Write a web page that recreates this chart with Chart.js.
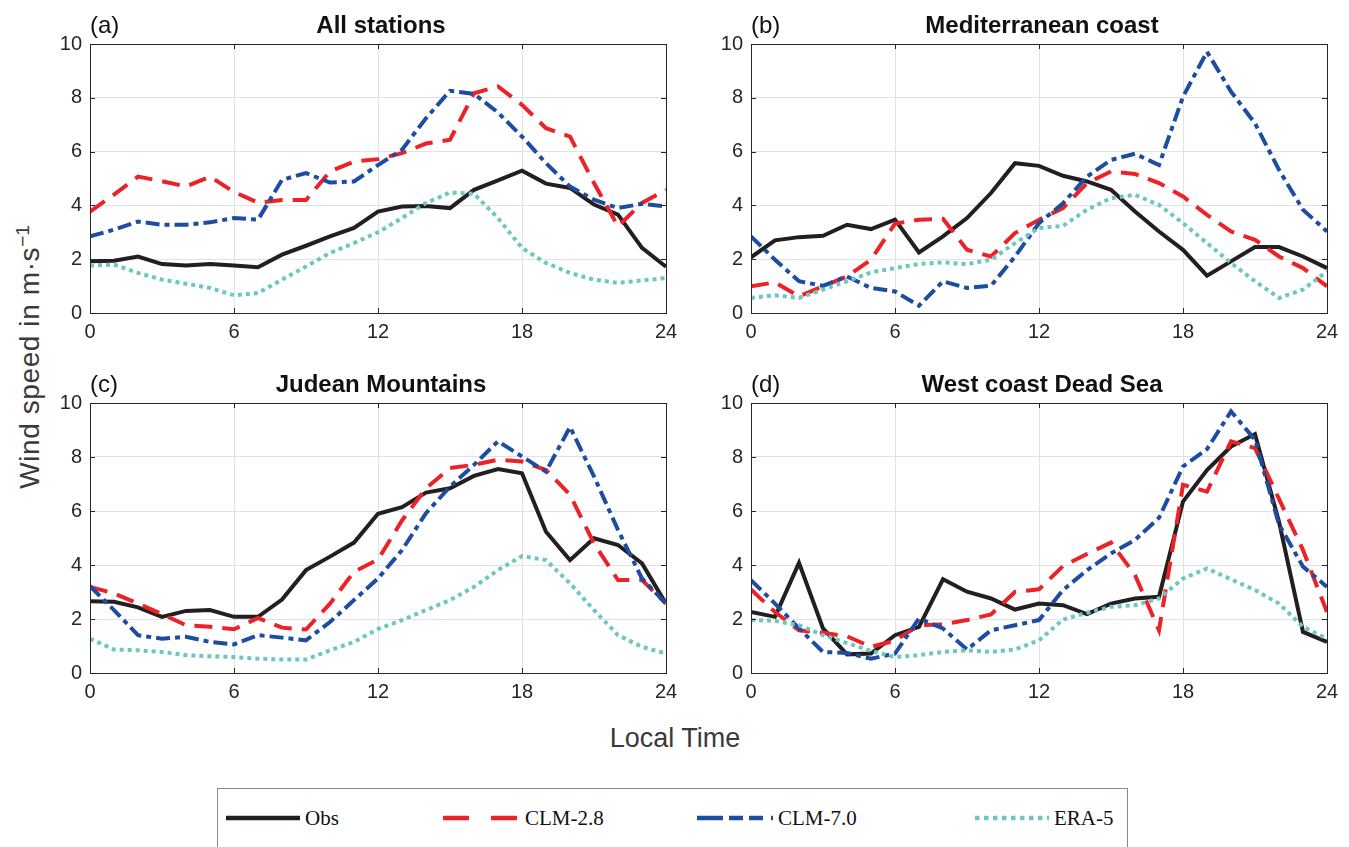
<!DOCTYPE html>
<html>
<head>
<meta charset="utf-8">
<title>Diurnal wind speed</title>
<script src="https://cdn.jsdelivr.net/npm/chart.js@4.4.0/dist/chart.umd.min.js"></script>
<style>
  html, body { margin: 0; padding: 0; background: #fff; }
  #fig { position: relative; width: 1349px; height: 847px; overflow: hidden;
         font-family: "Liberation Sans", Arial, Helvetica, sans-serif; }
  .panel { position: absolute; }
  .panel canvas { display: block; }
  #ylab { position: absolute; left: 30px; top: 357px; white-space: nowrap;
          transform: translate(-50%, -50%) rotate(-90deg);
          font-size: 28px; letter-spacing: 0.6px; color: #3a3a3a; }
  #ylab sup { font-size: 19px; vertical-align: 0.55em; line-height: 0; letter-spacing: 0; }
  #xlab { position: absolute; left: 675px; top: 738px; white-space: nowrap;
          transform: translate(-50%, -50%); font-size: 27px; color: #3a3a3a; }
  #legend { position: absolute; left: 0; top: 0; }
</style>
</head>
<body>
<div id="fig">
  <div id="ylab">Wind speed in m·s<sup>−1</sup></div>
  <div id="xlab">Local Time</div>
</div>

<script>
// Hour of day (local time)
const hours = [0,1,2,3,4,5,6,7,8,9,10,11,12,13,14,15,16,17,18,19,20,21,22,23,24];

// Panel labels and titles
const panelLetters = ["(a)", "(b)", "(c)", "(d)"];
const panelTitles = ["All stations", "Mediterranean coast", "Judean Mountains", "West coast Dead Sea"];

// Series names
const seriesNames = ["Obs", "CLM-2.8", "CLM-7.0", "ERA-5"];

// Axis ticks
const xTicks = [0, 6, 12, 18, 24];
const yTicks = [0, 2, 4, 6, 8, 10];

// (a) All stations
const allObs   = [1.92,1.94,2.10,1.82,1.77,1.82,1.77,1.70,2.17,2.50,2.85,3.16,3.77,3.96,3.98,3.90,4.58,4.93,5.29,4.81,4.65,4.03,3.66,2.42,1.72];
const allClm28 = [3.77,4.40,5.07,4.90,4.70,5.07,4.50,4.10,4.20,4.20,5.26,5.63,5.72,5.94,6.30,6.44,8.17,8.42,7.74,6.87,6.56,4.83,3.22,4.09,4.58];
const allClm70 = [2.85,3.10,3.40,3.28,3.28,3.37,3.53,3.47,4.95,5.20,4.85,4.89,5.50,6.07,7.24,8.26,8.15,7.45,6.56,5.57,4.70,4.21,3.90,4.06,3.96];
const allEra5  = [1.76,1.80,1.49,1.24,1.09,0.93,0.66,0.74,1.24,1.73,2.23,2.60,3.00,3.53,4.09,4.48,4.43,3.53,2.42,1.86,1.49,1.24,1.12,1.21,1.30];

// (b) Mediterranean coast
const medObs   = [2.07,2.70,2.82,2.87,3.28,3.12,3.47,2.25,2.85,3.53,4.46,5.57,5.47,5.10,4.89,4.58,3.77,3.03,2.35,1.39,1.92,2.45,2.45,2.10,1.67];
const medClm28 = [0.99,1.14,0.62,0.99,1.36,1.98,3.32,3.47,3.50,2.35,2.10,2.97,3.47,3.90,4.83,5.26,5.17,4.83,4.33,3.65,3.03,2.72,2.10,1.67,0.99];
const medClm70 = [2.85,1.98,1.18,1.01,1.36,0.93,0.80,0.27,1.18,0.93,1.01,2.10,3.34,4.08,5.07,5.69,5.92,5.50,8.04,9.71,8.23,7.05,5.32,3.84,3.03];
const medEra5  = [0.56,0.66,0.56,0.87,1.18,1.51,1.67,1.82,1.88,1.82,1.98,2.60,3.16,3.24,3.84,4.27,4.39,4.02,3.34,2.60,1.86,1.18,0.56,0.87,1.55];

// (c) Judean Mountains
const judObs   = [2.66,2.64,2.43,2.08,2.30,2.33,2.08,2.08,2.72,3.81,4.31,4.83,5.90,6.14,6.68,6.84,7.30,7.55,7.40,5.23,4.18,4.99,4.74,4.06,2.57];
const judClm28 = [3.19,2.95,2.57,2.18,1.77,1.71,1.62,2.04,1.68,1.61,2.57,3.75,4.20,5.65,6.84,7.59,7.71,7.90,7.83,7.52,6.60,4.80,3.44,3.44,2.57];
const judClm70 = [3.22,2.33,1.40,1.27,1.34,1.15,1.06,1.40,1.31,1.21,1.89,2.70,3.50,4.55,5.92,6.90,7.71,8.58,8.02,7.46,9.11,7.28,5.30,3.50,2.57];
const judEra5  = [1.27,0.87,0.84,0.78,0.66,0.62,0.59,0.53,0.50,0.50,0.84,1.15,1.63,1.96,2.33,2.70,3.19,3.81,4.33,4.18,3.32,2.33,1.40,0.97,0.72];

// (d) West coast Dead Sea
const dsObs   = [2.26,2.08,4.08,1.65,0.69,0.72,1.40,1.71,3.47,3.01,2.76,2.35,2.57,2.51,2.18,2.57,2.76,2.82,6.35,7.52,8.39,8.85,5.60,1.52,1.15];
const dsClm28 = [3.09,2.26,1.58,1.49,1.36,0.97,1.20,1.77,1.80,1.96,2.17,3.00,3.10,3.96,4.41,4.83,3.63,1.58,6.97,6.72,8.58,8.33,6.45,4.55,2.26];
const dsClm70 = [3.44,2.57,1.65,0.78,0.74,0.53,0.72,2.02,1.65,0.87,1.58,1.77,1.96,3.07,3.81,4.43,4.93,5.75,7.65,8.29,9.69,8.64,5.50,3.94,3.19];
const dsEra5  = [1.96,1.93,1.77,1.40,1.11,0.82,0.59,0.66,0.78,0.84,0.78,0.87,1.21,1.98,2.23,2.45,2.51,2.76,3.50,3.87,3.47,3.07,2.57,1.71,1.27];

const panelSeries = [
  [allObs, allClm28, allClm70, allEra5],
  [medObs, medClm28, medClm70, medEra5],
  [judObs, judClm28, judClm70, judEra5],
  [dsObs,  dsClm28,  dsClm70,  dsEra5]
];

// Line styles per series
const seriesColors = ["#231f20", "#ec2227", "#1c4da1", "#6dc7c0"];
const seriesDash   = [[], [18, 10], [14, 5, 5, 5], [4, 4]];
const seriesOrder  = [4, 3, 2, 1];   // ERA-5 on top, Obs underneath

// Plot-area placement of each panel on the page
const plotBoxes = [
  { L: 90,  T: 44,  R: 666,  B: 313 },
  { L: 751, T: 44,  R: 1327, B: 313 },
  { L: 90,  T: 403, R: 666,  B: 673 },
  { L: 751, T: 403, R: 1327, B: 673 }
];
const LEFT_M = 90, TOP_M = 44, RIGHT_M = 20, BOTTOM_M = 40;

const AXIS_COLOR = "#262626";
const FONT = '"Liberation Sans", Arial, Helvetica, sans-serif';

// Frame, inward tick marks, panel letter and title
const panelDecor = {
  id: "panelDecor",
  afterDraw(chart, args, opts) {
    const { ctx, chartArea: a, scales } = chart;
    ctx.save();
    ctx.strokeStyle = AXIS_COLOR;
    ctx.lineWidth = 1;
    const tl = 5;
    ctx.beginPath();
    yTicks.forEach(v => {
      const y = Math.round(scales.y.getPixelForValue(v)) + 0.5;
      ctx.moveTo(a.left, y); ctx.lineTo(a.left + tl, y);
      ctx.moveTo(a.right, y); ctx.lineTo(a.right - tl, y);
    });
    xTicks.forEach(v => {
      const x = Math.round(scales.x.getPixelForValue(v)) + 0.5;
      ctx.moveTo(x, a.bottom); ctx.lineTo(x, a.bottom - tl);
      ctx.moveTo(x, a.top); ctx.lineTo(x, a.top + tl);
    });
    ctx.stroke();
    ctx.strokeRect(Math.round(a.left) + 0.5, Math.round(a.top) + 0.5,
                   Math.round(a.right - a.left), Math.round(a.bottom - a.top));

    ctx.fillStyle = "#111";
    ctx.textBaseline = "alphabetic";
    ctx.font = "24px " + FONT;
    ctx.textAlign = "left";
    ctx.fillText(opts.letter, a.left, a.top - 11);
    ctx.font = "bold 24px " + FONT;
    ctx.textAlign = "center";
    ctx.fillText(opts.title, (a.left + a.right) / 2 + 3, a.top - 11);
    ctx.restore();
  }
};

const fig = document.getElementById("fig");

plotBoxes.forEach((box, p) => {
  const w = box.R - box.L + LEFT_M + RIGHT_M;
  const h = box.B - box.T + TOP_M + BOTTOM_M;
  const div = document.createElement("div");
  div.className = "panel";
  div.style.left = (box.L - LEFT_M) + "px";
  div.style.top = (box.T - TOP_M) + "px";
  div.style.width = w + "px";
  div.style.height = h + "px";
  const cv = document.createElement("canvas");
  cv.width = w; cv.height = h;
  cv.style.width = w + "px"; cv.style.height = h + "px";
  div.appendChild(cv);
  fig.appendChild(div);

  const datasets = panelSeries[p].map((vals, s) => ({
    label: seriesNames[s],
    data: hours.map((hr, i) => ({ x: hr, y: vals[i] })),
    borderColor: seriesColors[s],
    backgroundColor: seriesColors[s],
    borderWidth: 4,
    borderDash: seriesDash[s],
    borderCapStyle: "butt",
    borderJoinStyle: "miter",
    pointRadius: 0,
    tension: 0,
    fill: false,
    order: seriesOrder[s]
  }));

  new Chart(cv, {
    type: "line",
    data: { datasets },
    options: {
      responsive: false,
      animation: false,
      events: [],
      layout: { padding: { left: 0, top: TOP_M, right: RIGHT_M, bottom: 0 } },
      plugins: {
        legend: { display: false },
        tooltip: { enabled: false },
        title: { display: false },
        panelDecor: { letter: panelLetters[p], title: panelTitles[p] }
      },
      scales: {
        x: {
          type: "linear", min: 0, max: 24, offset: false,
          afterBuildTicks: s => { s.ticks = xTicks.map(v => ({ value: v })); },
          afterFit: s => { s.height = BOTTOM_M; },
          ticks: { color: AXIS_COLOR, font: { family: FONT, size: 20 }, padding: 7, maxRotation: 0, autoSkip: false },
          grid: { color: "#e2e2e2", lineWidth: 1, drawTicks: false },
          border: { display: true, color: AXIS_COLOR, width: 1 }
        },
        y: {
          type: "linear", min: 0, max: 10,
          afterBuildTicks: s => { s.ticks = yTicks.map(v => ({ value: v })); },
          afterFit: s => { s.width = LEFT_M; },
          ticks: { color: AXIS_COLOR, font: { family: FONT, size: 20 }, padding: 8 },
          grid: { color: "#e2e2e2", lineWidth: 1, drawTicks: false },
          border: { display: true, color: AXIS_COLOR, width: 1 }
        }
      }
    },
    plugins: [panelDecor]
  });
});

// Shared legend below the panels
const legendItems = [
  { x1: 226, x2: 300, tx: 305, dash: "" },
  { x1: 443, x2: 519, tx: 525, dash: "26 22" },
  { x1: 697, x2: 773, tx: 778, dash: "26 6 14 6 14 8" },
  { x1: 975, x2: 1049, tx: 1054, dash: "4.5 4.5" }
];
const NS = "http://www.w3.org/2000/svg";
const svg = document.createElementNS(NS, "svg");
svg.setAttribute("id", "legend");
svg.setAttribute("width", "1349");
svg.setAttribute("height", "847");
const frame = document.createElementNS(NS, "rect");
frame.setAttribute("x", "217.5"); frame.setAttribute("y", "788.5");
frame.setAttribute("width", "910"); frame.setAttribute("height", "80");
frame.setAttribute("fill", "#fff"); frame.setAttribute("stroke", "#8a8a8a");
svg.appendChild(frame);
legendItems.forEach((it, s) => {
  const ln = document.createElementNS(NS, "line");
  ln.setAttribute("x1", it.x1); ln.setAttribute("x2", it.x2);
  ln.setAttribute("y1", 818); ln.setAttribute("y2", 818);
  ln.setAttribute("stroke", seriesColors[s]);
  ln.setAttribute("stroke-width", "4.5");
  if (it.dash) ln.setAttribute("stroke-dasharray", it.dash);
  svg.appendChild(ln);
  const tx = document.createElementNS(NS, "text");
  tx.setAttribute("x", it.tx); tx.setAttribute("y", 825);
  tx.setAttribute("font-family", '"Liberation Serif", "DejaVu Serif", serif');
  tx.setAttribute("font-size", "21");
  tx.setAttribute("fill", "#111");
  tx.textContent = seriesNames[s];
  svg.appendChild(tx);
});
fig.appendChild(svg);
</script>
</body>
</html>
